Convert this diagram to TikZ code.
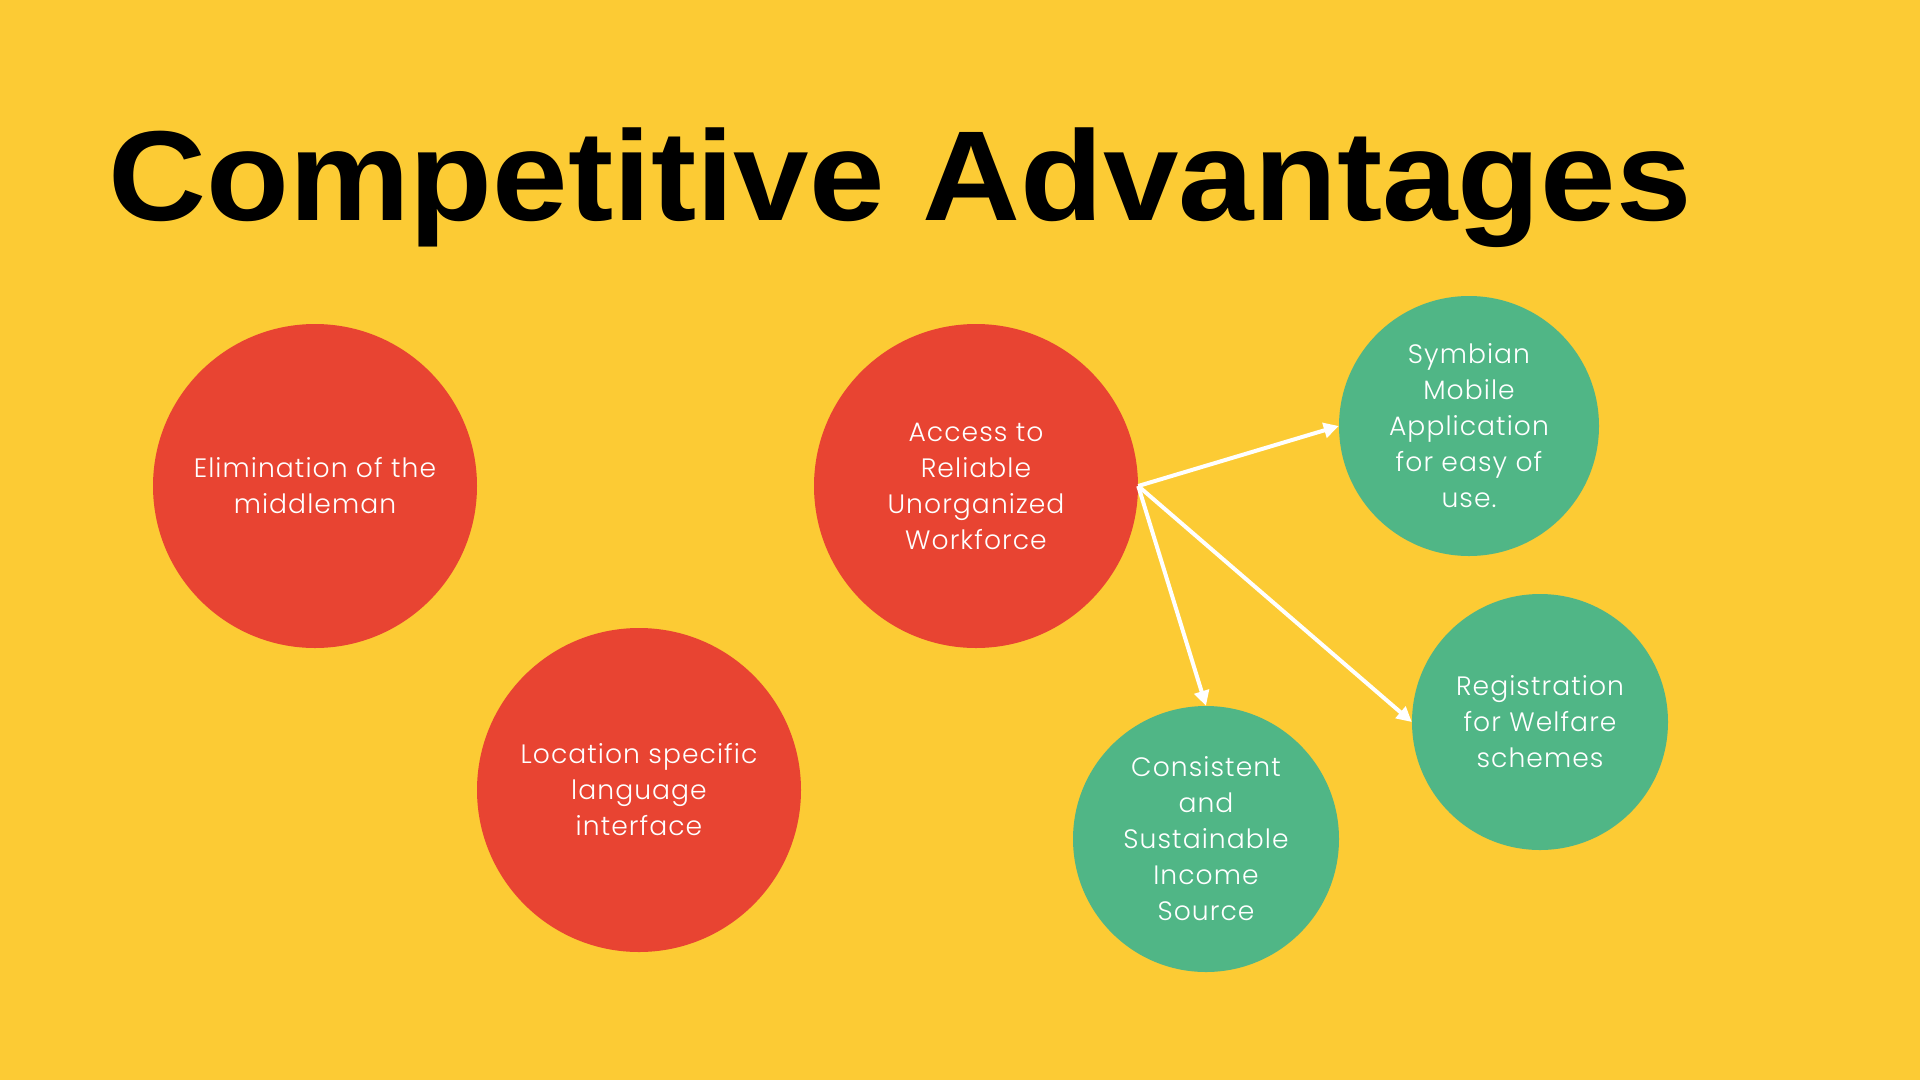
\documentclass[tikz,border=0pt]{standalone}
\usepackage{fontspec}
\setmainfont{Liberation Sans}
\newfontfamily\bodyfont[LetterSpace=4]{Poppins Light}
\newfontfamily\titlefont{Liberation Sans Bold}
\usetikzlibrary{arrows.meta}
\definecolor{bgyellow}{RGB}{252,203,52}
\definecolor{cred}{RGB}{232,68,50}
\definecolor{cgreen}{RGB}{80,182,134}
\tikzset{
  bubble/.style={circle, inner sep=0pt, align=center, text=white,
    font=\bodyfont\fontsize{26.6}{36}\selectfont},
  redb/.style={bubble, fill=cred},
  greenb/.style={bubble, fill=cgreen},
  link/.style={draw=white, line width=4pt, -{Triangle[length=15pt,width=15pt]}}
}
\begin{document}
\begin{tikzpicture}[x=1pt,y=-1pt]
\fill[bgyellow] (0,0) rectangle (1920,1080);
\useasboundingbox (0,0) rectangle (1920,1080);
\node[anchor=base, inner sep=0pt] (title) at (900,220)
  {\scalebox{1.06}[1]{\titlefont\fontsize{128}{140}\selectfont Competitive Advantages}};
\node[redb, minimum size=324pt] (r1) at (315,486) {Elimination of the\\middleman};
\node[redb, minimum size=324pt] (r2) at (639,790) {Location specific\\language\\interface};
\node[redb, minimum size=324pt] (r3) at (976,486) {Access to\\Reliable\\Unorganized\\Workforce};
\node[greenb, minimum size=260pt] (g1) at (1469,426) {Symbian\\Mobile\\Application\\for easy of\\use.};
\node[greenb, minimum size=256pt] (g2) at (1540,722) {Registration\\for Welfare\\schemes};
\node[greenb, minimum size=266pt] (g3) at (1206,839) {Consistent\\and\\Sustainable\\Income\\Source};
\draw[link] (r3.east) -- (g1.west);
\draw[link] (r3.east) -- (g3.north);
\draw[link] (r3.east) -- (g2.west);
\end{tikzpicture}
\end{document}
